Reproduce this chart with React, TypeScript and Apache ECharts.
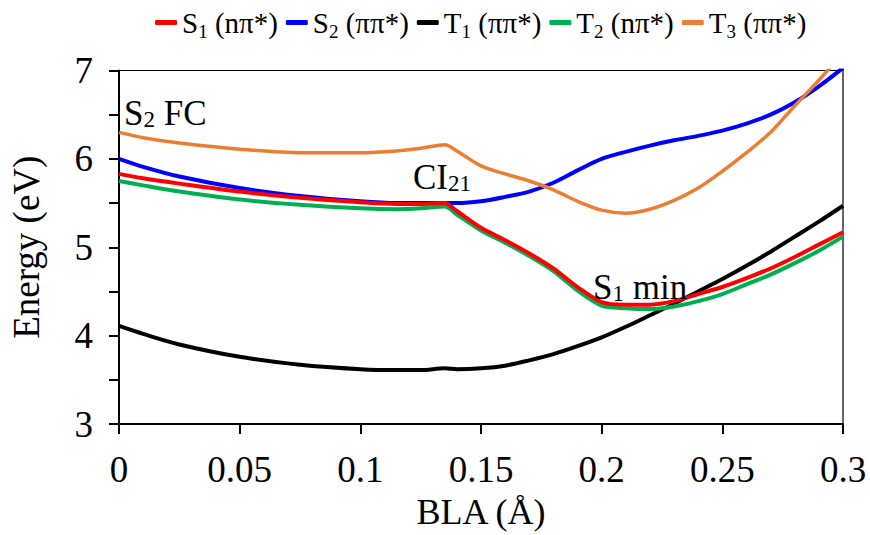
import React, { useEffect, useRef } from "react";
import * as echarts from "echarts";

const BLA = [0, 0.01, 0.025, 0.05, 0.075, 0.1, 0.115, 0.125, 0.135, 0.14, 0.15, 0.16, 0.17, 0.18, 0.19, 0.2, 0.21, 0.22, 0.23, 0.24, 0.25, 0.26, 0.27, 0.28, 0.29, 0.3];
const S1 = [5.83, 5.78, 5.72, 5.63, 5.56, 5.51, 5.49, 5.49, 5.5, 5.41, 5.22, 5.08, 4.93, 4.76, 4.55, 4.38, 4.35, 4.35, 4.39, 4.47, 4.55, 4.65, 4.76, 4.89, 5.03, 5.17];
const S2 = [6.0, 5.91, 5.8, 5.67, 5.58, 5.52, 5.5, 5.5, 5.5, 5.5, 5.52, 5.57, 5.63, 5.73, 5.87, 6.0, 6.08, 6.15, 6.21, 6.26, 6.32, 6.4, 6.5, 6.64, 6.82, 7.03];
const T1 = [4.11, 4.02, 3.9, 3.76, 3.67, 3.62, 3.61, 3.61, 3.63, 3.62, 3.63, 3.66, 3.72, 3.79, 3.88, 3.98, 4.1, 4.23, 4.36, 4.5, 4.64, 4.79, 4.95, 5.12, 5.29, 5.47];
const T2 = [5.75, 5.7, 5.63, 5.54, 5.48, 5.44, 5.43, 5.44, 5.46, 5.37, 5.19, 5.05, 4.9, 4.73, 4.51, 4.34, 4.31, 4.3, 4.33, 4.39, 4.47, 4.58, 4.69, 4.82, 4.96, 5.12];
const T3 = [6.3, 6.24, 6.18, 6.11, 6.07, 6.07, 6.09, 6.12, 6.16, 6.09, 5.92, 5.83, 5.75, 5.65, 5.52, 5.42, 5.385, 5.43, 5.53, 5.67, 5.86, 6.07, 6.3, 6.6, 6.89, 7.2];

const SERIES_NAMES = ["S1 (nπ*)", "S2 (ππ*)", "T1 (ππ*)", "T2 (nπ*)", "T3 (ππ*)"];
const SERIES_DATA = [S1, S2, T1, T2, T3];
const SERIES_COLORS = ["#ff0000", "#0000ff", "#000000", "#00b050", "#ed7d31"];
const DRAW_ORDER = [1, 4, 2, 3, 0];
const X_TICKS = [0, 0.05, 0.1, 0.15, 0.2, 0.25, 0.3];
const Y_TICKS = [3, 4, 5, 6, 7];

const FONT = "'Liberation Serif', 'Times New Roman', serif";

export default function App() {
  const ref = useRef<HTMLDivElement>(null);
  useEffect(() => {
    if (!ref.current) return;
    const chart = echarts.init(ref.current, null, { renderer: "svg" });
    const series = DRAW_ORDER.map((i) => ({
      name: SERIES_NAMES[i],
      type: "line",
      data: BLA.map((x, k) => [x, SERIES_DATA[i][k]]),
      showSymbol: false,
      symbol: "none",
      smooth: 0.3,
      clip: true,
      lineStyle: { color: SERIES_COLORS[i], width: i === 4 ? 3.5 : 4 },
      itemStyle: { color: SERIES_COLORS[i] },
      z: 2,
    }));
    const annot = (text: string, x: number, y: number, subH: number) => ({
      type: "text",
      x,
      y,
      z: 10,
      style: {
        text,
        fill: "#000",
        verticalAlign: "top",
        rich: {
          n: { fontFamily: FONT, fontSize: 35, lineHeight: 35, fill: "#000" },
          s: { fontFamily: FONT, fontSize: 23, lineHeight: subH, verticalAlign: "bottom", fill: "#000" },
        },
      },
    });
    chart.setOption({
      animation: false,
      backgroundColor: "#fff",
      textStyle: { fontFamily: FONT },
      legend: {
        data: SERIES_NAMES,
        left: 150,
        top: 3,
        itemWidth: 22,
        itemHeight: 5,
        itemGap: 8,
        icon: "roundRect",
        formatter: (name: string) => `{n|${name[0]}}{s|${name[1]}}{n|${name.slice(2)}}`,
        textStyle: {
          color: "#000",
          fontFamily: FONT,
          fontSize: 29,
          rich: {
            n: { fontFamily: FONT, fontSize: 29, lineHeight: 36, color: "#000" },
            s: { fontFamily: FONT, fontSize: 19, lineHeight: 21, verticalAlign: "bottom", color: "#000" },
          },
        },
      },
      grid: {
        left: 118,
        right: 27,
        top: 70.5,
        bottom: 101,
        show: true,
        borderColor: "#000",
        borderWidth: 1.2,
        backgroundColor: "transparent",
      },
      xAxis: {
        type: "value",
        min: 0,
        max: 0.3,
        interval: 0.05,
        name: "BLA (Å)",
        nameLocation: "middle",
        nameGap: 70,
        nameTextStyle: { fontFamily: FONT, fontSize: 36, color: "#000" },
        axisLine: { show: true, lineStyle: { color: "#000", width: 2 } },
        axisTick: { show: true, length: 10, lineStyle: { color: "#000", width: 2 } },
        axisLabel: {
          fontFamily: FONT,
          fontSize: 37,
          color: "#000",
          margin: 27,
          formatter: (v: number) => {
            const r = Math.round(v * 100) / 100;
            return X_TICKS.some((t) => Math.abs(t - r) < 1e-9) ? String(r) : "";
          },
        },
        splitLine: { show: false },
      },
      yAxis: {
        type: "value",
        min: 3,
        max: 7,
        interval: 0.5,
        name: "Energy (eV)",
        nameLocation: "middle",
        nameGap: 74,
        nameRotate: 90,
        nameTextStyle: { fontFamily: FONT, fontSize: 37, color: "#000" },
        axisLine: { show: true, lineStyle: { color: "#000", width: 2 } },
        axisTick: { show: true, length: 10, lineStyle: { color: "#000", width: 2 } },
        axisLabel: {
          fontFamily: FONT,
          fontSize: 37,
          color: "#000",
          margin: 26,
          formatter: (v: number) => (Y_TICKS.some((t) => Math.abs(t - v) < 1e-9) ? String(Math.round(v)) : ""),
        },
        splitLine: { show: false },
      },
      series,
      graphic: [
        annot("{n|S}{s|2}{n| FC}", 124, 96, 18),
        annot("{n|CI}{s|21}", 413, 160, 10),
        annot("{n|S}{s|1}{n| min}", 593, 270, 18),
      ],
    });
    return () => chart.dispose();
  }, []);
  return <div ref={ref} style={{ position: "fixed", left: 0, top: 0, width: 870, height: 535 }} />;
}
